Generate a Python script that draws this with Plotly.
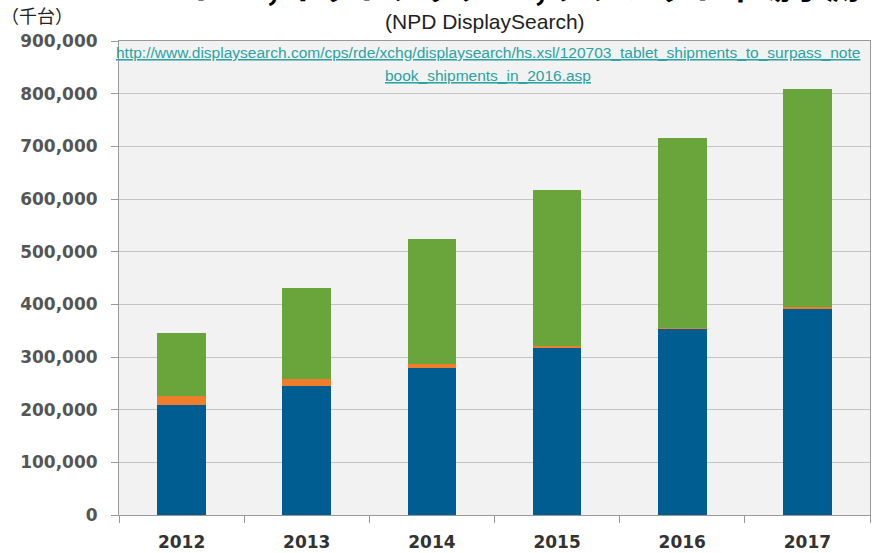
import plotly.graph_objects as go

years = ["2012", "2013", "2014", "2015", "2016", "2017"]
notebook = [209000, 245000, 279000, 317000, 355000, 392000]
netbook = [17000, 13000, 8000, 4000, 1000, 2000]
tablet = [120000, 173000, 238000, 297000, 359000, 414000]

y_ticks = [0, 100000, 200000, 300000, 400000, 500000, 600000, 700000, 800000, 900000]
y_ticktext = ["{:,}".format(v) for v in y_ticks]

colors = {"notebook": "#005d92", "netbook": "#ee7d2c", "tablet": "#6aa53c"}

fig = go.Figure()
fig.add_trace(go.Bar(x=years, y=notebook, name="ノートPC", marker_color=colors["notebook"],
                     marker_line_width=0))
fig.add_trace(go.Bar(x=years, y=netbook, name="ネットブック", marker_color=colors["netbook"],
                     marker_line_width=0))
fig.add_trace(go.Bar(x=years, y=tablet, name="タブレット", marker_color=colors["tablet"],
                     marker_line_width=0))

L, R, T, B = 119, 8, 41, 38
W, H = 878, 553
ph = H - T - B

def py(pix):
    return (H - B - pix) / ph

def px(pix):
    return (pix - L) / (W - L - R)

fig.update_layout(
    width=W, height=H, autosize=False,
    margin=dict(l=L, r=R, t=T, b=B, pad=0, autoexpand=False),
    barmode="stack", bargap=0.61,
    showlegend=False,
    paper_bgcolor="white", plot_bgcolor="#f2f2f2",
    font=dict(family="DejaVu Sans", color="#444"),
    xaxis=dict(
        type="category", showgrid=False, ticks="outside", tickson="boundaries",
        ticklen=7, tickcolor="#999", showline=True, linecolor="#999", linewidth=1, mirror=True,
        ticklabelstandoff=12, automargin=False,
        tickfont=dict(family="DejaVu Sans", size=17, color="#333", weight="bold"),
    ),
    yaxis=dict(
        range=[0, 900000], tickvals=y_ticks, ticktext=y_ticktext,
        showgrid=True, gridcolor="#c4c4c4", gridwidth=1, zeroline=False,
        ticks="outside", ticklen=7, tickcolor="#999",
        showline=True, linecolor="#999", linewidth=1, mirror=True,
        ticklabelstandoff=10, automargin=False,
        tickfont=dict(family="DejaVu Sans", size=17, color="#555", weight="bold"),
    ),
)

anns = [
    dict(text="ノートPC, ネットブックPC, タブレット市場予測", x=px(490), y=py(11),
         xanchor="center", yanchor="bottom",
         font=dict(family="Noto Sans CJK JP", size=34, color="black", weight="bold")),
    dict(text="(NPD DisplaySearch)", x=px(485), y=py(21), xanchor="center", yanchor="middle",
         font=dict(family="Liberation Sans", size=21, color="#222")),
    dict(text="（千台）", x=px(-1), y=py(15), xanchor="left", yanchor="middle",
         font=dict(family="Noto Sans CJK JP", size=18, color="#222")),
    dict(text="<u>http://www.displaysearch.com/cps/rde/xchg/displaysearch/hs.xsl/120703_tablet_shipments_to_surpass_note</u>",
         x=px(488), y=py(52), xanchor="center", yanchor="middle",
         font=dict(family="Liberation Sans", size=15.5, color="#2aa3a3")),
    dict(text="<u>book_shipments_in_2016.asp</u>",
         x=px(488), y=py(75), xanchor="center", yanchor="middle",
         font=dict(family="Liberation Sans", size=15.5, color="#2aa3a3")),
]
for a in anns:
    a.update(xref="paper", yref="paper", showarrow=False)
fig.update_layout(annotations=anns)

fig.write_html("out.html", config={"displayModeBar": False},
               post_script="document.body.style.margin='0';")
